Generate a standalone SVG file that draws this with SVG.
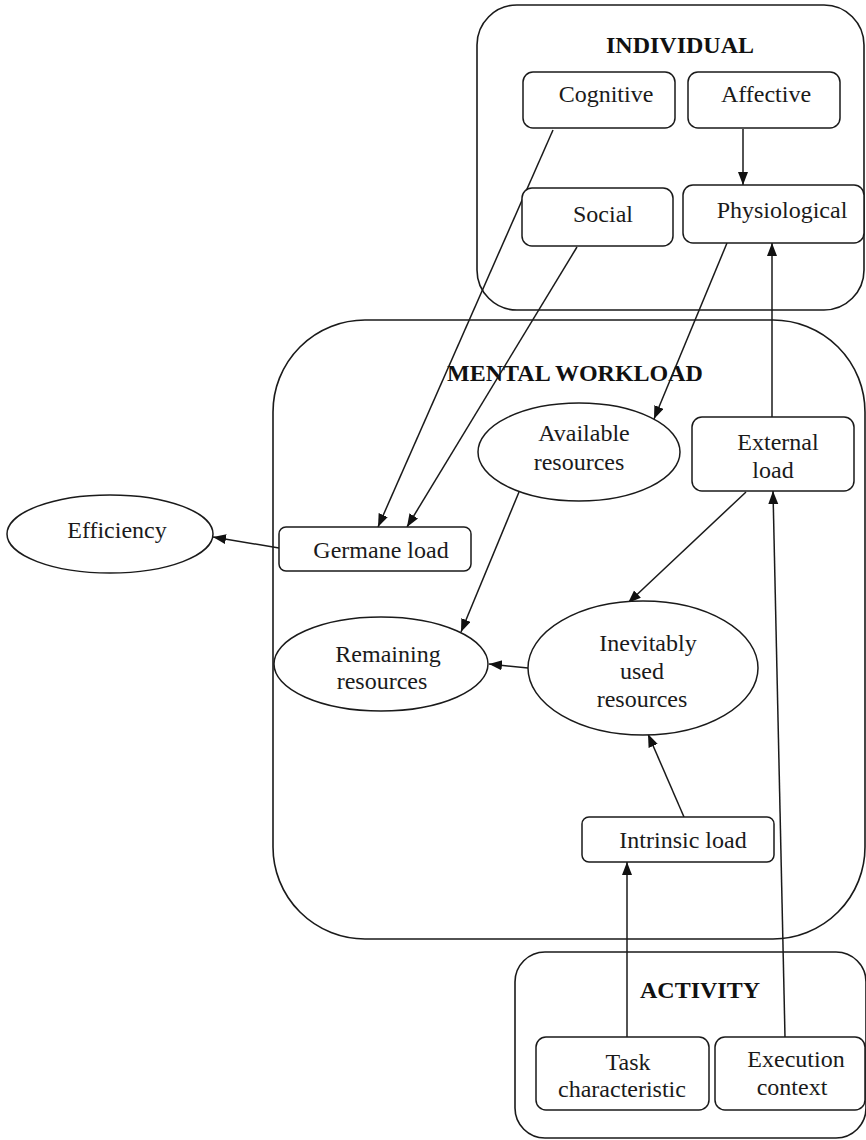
<svg xmlns="http://www.w3.org/2000/svg" width="866" height="1140" viewBox="0 0 866 1140">
  <style>
    .frame { fill: none; stroke: #1a1a1a; stroke-width: 1.6; }
    .box { fill: #ffffff; stroke: #1a1a1a; stroke-width: 1.5; }
    .oval { fill: #ffffff; stroke: #1a1a1a; stroke-width: 1.5; }
    .label { font-family: "Liberation Serif", "Times New Roman", serif; font-size: 24px; fill: #1a1a1a; text-anchor: middle; }
    .title { font-family: "Liberation Serif", "Times New Roman", serif; font-size: 24px; font-weight: bold; fill: #111111; text-anchor: middle; }
    .edge { fill: none; stroke: #1a1a1a; stroke-width: 1.5; marker-end: url(#arrow); }
  </style>
  <defs>
    <marker id="arrow" markerUnits="userSpaceOnUse" markerWidth="14" markerHeight="11" refX="13" refY="5" orient="auto">
      <path d="M0,0 L13,5 L0,10 z" fill="#111111"/>
    </marker>
  </defs>
  <rect width="866" height="1140" fill="#ffffff"/>

  <!-- Group frames -->
  <g id="individual">
    <rect class="frame" x="477" y="5" width="387" height="305" rx="40" ry="40"/>
    <text class="title" x="680" y="53">INDIVIDUAL</text>
  </g>
  <g id="mental-workload">
    <rect class="frame" x="273" y="320" width="592" height="619" rx="92" ry="92"/>
    <text class="title" x="575" y="381">MENTAL WORKLOAD</text>
  </g>
  <g id="activity">
    <rect class="frame" x="515" y="952" width="351" height="186" rx="30" ry="30"/>
    <text class="title" x="700" y="998">ACTIVITY</text>
  </g>

  <!-- Connectors -->
  <g id="connectors">
    <line class="edge" x1="743" y1="129" x2="743" y2="185"/>
    <line class="edge" x1="553" y1="130" x2="378" y2="527"/>
    <line class="edge" x1="577" y1="247" x2="407" y2="527"/>
    <line class="edge" x1="727" y1="243" x2="654" y2="419"/>
    <line class="edge" x1="772" y1="417" x2="772" y2="243"/>
    <line class="edge" x1="785" y1="1037" x2="773" y2="491"/>
    <line class="edge" x1="627" y1="1037" x2="627" y2="862"/>
    <line class="edge" x1="684" y1="817" x2="648" y2="734"/>
    <line class="edge" x1="746" y1="492" x2="628" y2="603"/>
    <line class="edge" x1="519" y1="492" x2="461" y2="632"/>
    <line class="edge" x1="528" y1="668" x2="489" y2="664"/>
    <line class="edge" x1="279" y1="548" x2="213" y2="537"/>
  </g>

  <!-- Nodes -->
  <g id="cognitive">
    <rect class="box" x="523" y="72" width="152" height="56" rx="10"/>
    <text class="label" x="606" y="102">Cognitive</text>
  </g>
  <g id="affective">
    <rect class="box" x="688" y="72" width="152" height="56" rx="10"/>
    <text class="label" x="766" y="102">Affective</text>
  </g>
  <g id="social">
    <rect class="box" x="522" y="188" width="151" height="58" rx="10"/>
    <text class="label" x="603" y="222">Social</text>
  </g>
  <g id="physiological">
    <rect class="box" x="683" y="185" width="181" height="58" rx="10"/>
    <text class="label" x="782" y="218">Physiological</text>
  </g>
  <g id="available-resources">
    <ellipse class="oval" cx="579" cy="452" rx="101" ry="49"/>
    <text class="label" x="584" y="441">Available</text>
    <text class="label" x="579" y="470">resources</text>
  </g>
  <g id="external-load">
    <rect class="box" x="692" y="417" width="162" height="74" rx="10"/>
    <text class="label" x="778" y="450">External</text>
    <text class="label" x="773" y="478">load</text>
  </g>
  <g id="germane-load">
    <rect class="box" x="279" y="527" width="192" height="44" rx="7"/>
    <text class="label" x="381" y="558">Germane load</text>
  </g>
  <g id="efficiency">
    <ellipse class="oval" cx="110" cy="534" rx="103" ry="39"/>
    <text class="label" x="117" y="538">Efficiency</text>
  </g>
  <g id="remaining-resources">
    <ellipse class="oval" cx="381" cy="664" rx="107" ry="47"/>
    <text class="label" x="388" y="662">Remaining</text>
    <text class="label" x="382" y="689">resources</text>
  </g>
  <g id="inevitably-used-resources">
    <ellipse class="oval" cx="643" cy="668" rx="115" ry="67"/>
    <text class="label" x="648" y="651">Inevitably</text>
    <text class="label" x="642" y="679">used</text>
    <text class="label" x="642" y="707">resources</text>
  </g>
  <g id="intrinsic-load">
    <rect class="box" x="582" y="817" width="192" height="45" rx="7"/>
    <text class="label" x="683" y="848">Intrinsic load</text>
  </g>
  <g id="task-characteristic">
    <rect class="box" x="536" y="1037" width="173" height="73" rx="10"/>
    <text class="label" x="628" y="1070">Task</text>
    <text class="label" x="622" y="1097">characteristic</text>
  </g>
  <g id="execution-context">
    <rect class="box" x="715" y="1037" width="150" height="73" rx="10"/>
    <text class="label" x="796" y="1067">Execution</text>
    <text class="label" x="792" y="1095">context</text>
  </g>
</svg>
